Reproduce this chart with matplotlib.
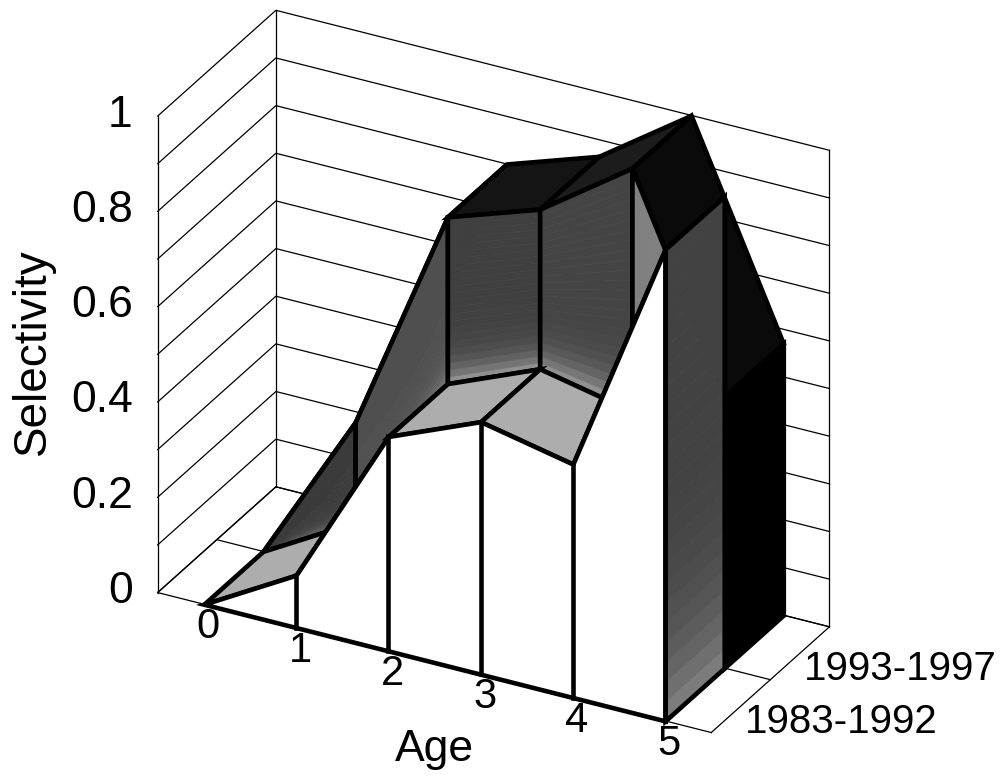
import numpy as np
import matplotlib
matplotlib.use('Agg')
from matplotlib import pyplot as plt
from matplotlib.colors import to_rgb
from matplotlib.transforms import offset_copy
from mpl_toolkits.mplot3d import proj3d
from mpl_toolkits.mplot3d.art3d import Poly3DCollection

plt.rcParams['font.family'] = ['Liberation Sans', 'DejaVu Sans']

ages = [0, 1, 2, 3, 4, 5]
period_labels = ['1983-1992', '1993-1997']
period_ticks = [0.5, 1.5]
sel_early = [0.0, 0.11, 0.45, 0.53, 0.49, 0.99]
sel_late = [0.0, 0.32, 0.80, 0.865, 1.0, 0.57]
sel_grid = [0.0, 0.1, 0.2, 0.3, 0.4, 0.5, 0.6, 0.7, 0.8, 0.9, 1.0]
sel_labels = ['0', '0.2', '0.4', '0.6', '0.8', '1']
sel_label_ticks = [0.0, 0.2, 0.4, 0.6, 0.8, 1.0]

fig = plt.figure(figsize=(10.04, 7.82), dpi=100)
ax = fig.add_axes([92 / 1004, 9 / 782, 782 / 1004, 1.0], projection='3d',
                  proj_type='ortho', computed_zorder=False)
ax.view_init(elev=28.4, azim=-62)
ax.set_box_aspect((625, 251, 540), zoom=1.075)
ax.set_xlim(-0.5, 5.5, view_margin=0)
ax.set_ylim(0, 2, view_margin=0)
ax.set_zlim(0, 1, view_margin=0)
ax.set_axis_off()

# walls and floor
grid = dict(color='black', lw=0.9, zorder=1)
for z in sel_grid:
    ax.plot([-0.5, -0.5, 5.5], [0, 2, 2], [z, z, z], **grid)
ax.plot([-0.5, -0.5], [0, 0], [0, 1], **grid)
ax.plot([-0.5, -0.5], [2, 2], [0, 1], **grid)
ax.plot([5.5, 5.5], [2, 2], [0, 1], **grid)
ax.plot([-0.5, -0.5], [0, 2], [0, 0], **grid)
ax.plot([5.5, 5.5], [0, 2], [0, 0], **grid)
for y in [0, 1, 2]:
    ax.plot([-0.5, 5.5], [y, y], [0, 0], **grid)

order = [10]
lw_edge = 3.3


def face(verts, color):
    order[0] += 1
    poly = Poly3DCollection([verts], facecolors=color, edgecolors='black',
                            linewidths=lw_edge, joinstyle='miter', zorder=order[0])
    ax.add_collection3d(poly, autolim=False)


def shaded(bottom, top, col_bottom, col_top, power=10, n=24):
    # quad from bottom edge to top edge, shaded in strips, outline on top
    b0, b1 = np.array(bottom[0], float), np.array(bottom[1], float)
    t0, t1 = np.array(top[0], float), np.array(top[1], float)
    c0, c1 = np.array(to_rgb(col_bottom)), np.array(to_rgb(col_top))
    ss = np.linspace(0, 1, n + 1)
    for j in range(n):
        s, e = ss[j], ss[j + 1]
        # the fade stays near the bottom edge
        col = c1 + (c0 - c1) * (1 - s) ** power
        order[0] += 1
        strip = Poly3DCollection([[b0 + (t0 - b0) * s, b1 + (t1 - b1) * s,
                                   b1 + (t1 - b1) * e, b0 + (t0 - b0) * e]],
                                 facecolors=[col], edgecolors=[col], linewidths=0.5,
                                 zorder=order[0])
        ax.add_collection3d(strip, autolim=False)
    order[0] += 1
    outline = Poly3DCollection([[b0, b1, t1, t0]], facecolors=[(0, 0, 0, 0)], edgecolors='black',
                               linewidths=lw_edge, joinstyle='miter', zorder=order[0])
    ax.add_collection3d(outline, autolim=False)


# later period, flat top
top_cols = ['#1a1a1a', '#1a1a1a', '#141414', '#1c1c1c', '#0a0a0a']
for i in range(5):
    face([(ages[i], 1, sel_late[i]), (ages[i + 1], 1, sel_late[i + 1]),
          (ages[i + 1], 2, sel_late[i + 1]), (ages[i], 2, sel_late[i])], top_cols[i])
face([(5, 1, 0), (5, 2, 0), (5, 2, sel_late[5]), (5, 1, sel_late[5])], '#000000')

# step between the two periods
wall_bottom = ['#707070', '#808080', '#909090', '#909090', '#a0a0a0']
wall_top = ['#3c3c3c', '#505050', '#404040', '#444444', '#808080']
for i in range(5):
    shaded([(ages[i], 1, sel_early[i]), (ages[i + 1], 1, sel_early[i + 1])],
           [(ages[i], 1, sel_late[i]), (ages[i + 1], 1, sel_late[i + 1])],
           wall_bottom[i], wall_top[i])

# earlier period, flat top
for i in range(5):
    face([(ages[i], 0, sel_early[i]), (ages[i + 1], 0, sel_early[i + 1]),
          (ages[i + 1], 1, sel_early[i + 1]), (ages[i], 1, sel_early[i])], '#adadad')
shaded([(5, 0, 0), (5, 1, 0)], [(5, 0, sel_early[5]), (5, 1, sel_early[5])], '#7c7c7c', '#424242', power=6)

# front curtain
face([(a, 0, s) for a, s in zip(ages, sel_early)] + [(5, 0, 0), (0, 0, 0)], '#ffffff')
for a, s in zip(ages, sel_early):
    ax.plot([a, a], [0, 0], [0, s], color='black', lw=lw_edge, zorder=order[0] + 1)


def label(x, y, z, s, dx, dy, **kw):
    xp, yp, _ = proj3d.proj_transform(x, y, z, ax.get_proj())
    ax.text2D(xp, yp, s, transform=offset_copy(ax.transData, fig=fig, x=dx, y=dy, units='dots'),
              zorder=order[0] + 2, **kw)


for a in ages:
    label(a, 0, 0, str(a), 4, -23, fontsize=30, ha='center', va='center')
for z, s in zip(sel_label_ticks, sel_labels):
    label(-0.5, 0, z, s, -25, 1, fontsize=32, ha='right', va='center')
for y, s in zip(period_ticks, period_labels):
    label(5.5, y, 0, s, 4, -16, fontsize=29, ha='left', va='center')

fig.text(33 / 1004, 1 - 352 / 782, 'Selectivity', fontsize=33, rotation=90, ha='center', va='center')
fig.text(434 / 1004, 1 - 750 / 782, 'Age', fontsize=32, ha='center', va='center')

fig.savefig('out.png', dpi=100)
